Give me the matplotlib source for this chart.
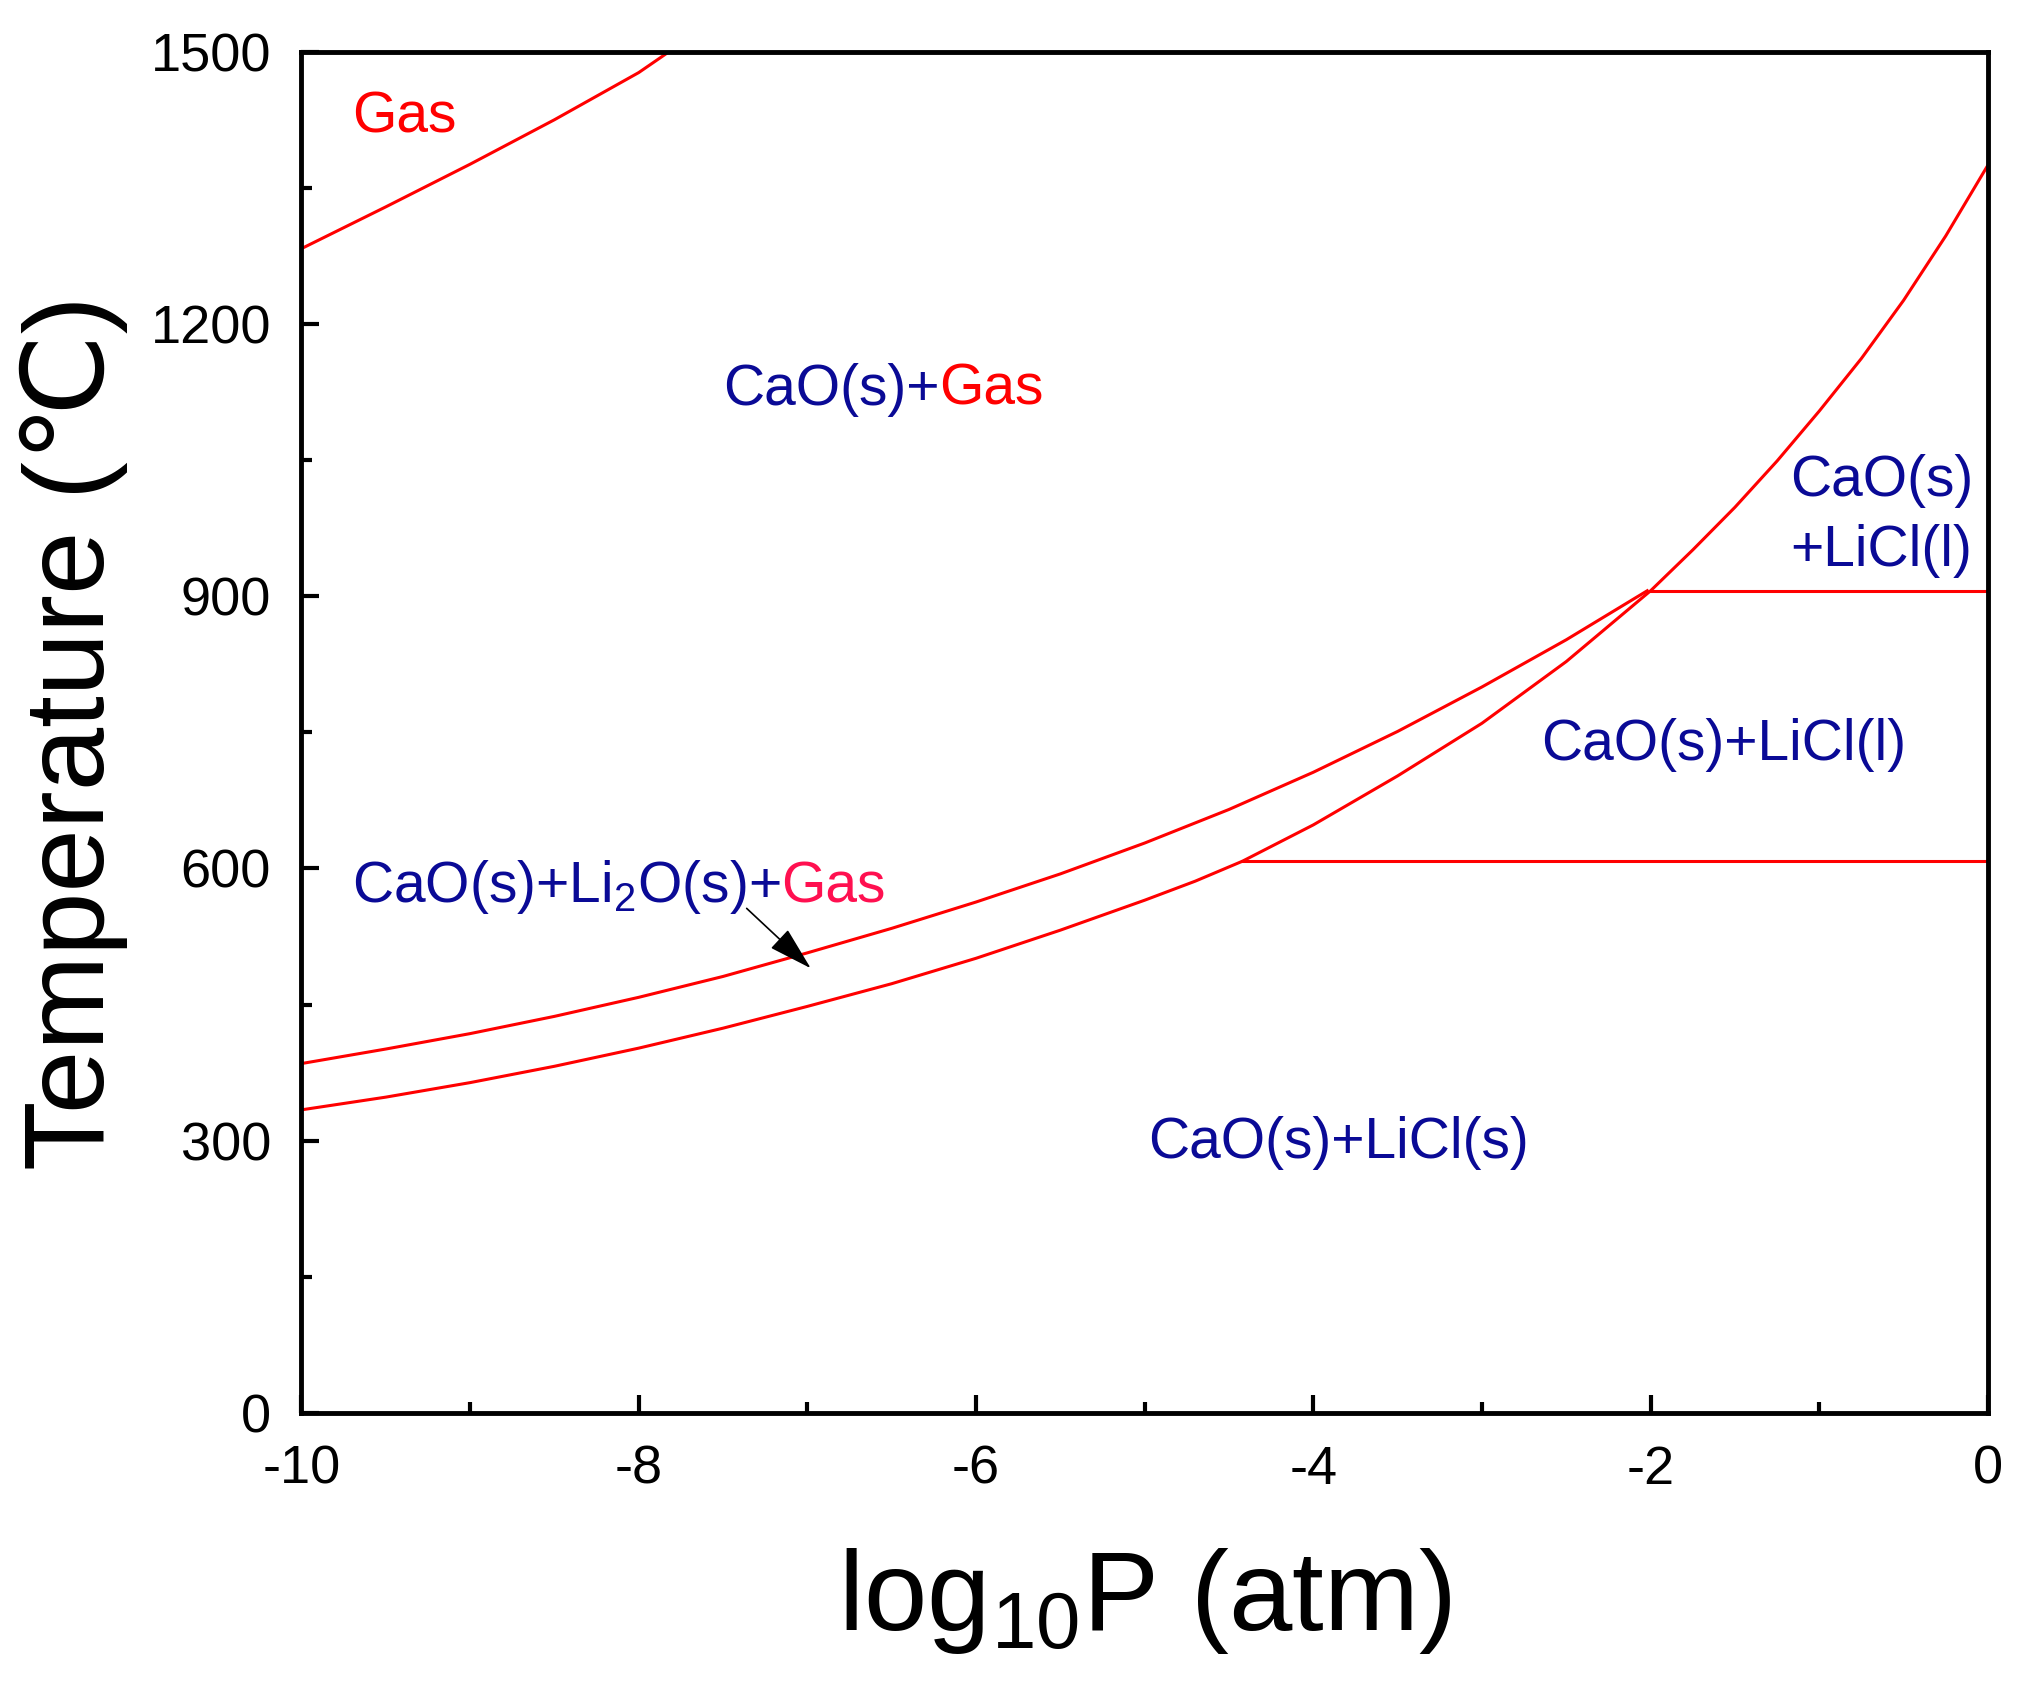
import matplotlib
matplotlib.use("Agg")
import matplotlib.pyplot as plt
from matplotlib.ticker import MultipleLocator
from matplotlib.transforms import IdentityTransform

plt.rcParams["font.family"] = ["Liberation Sans", "DejaVu Sans"]
plt.rcParams["mathtext.fontset"] = "custom"
plt.rcParams["mathtext.rm"] = "Liberation Sans"
plt.rcParams["mathtext.it"] = "Liberation Sans:italic"
plt.rcParams["mathtext.default"] = "regular"
plt.rcParams["axes.unicode_minus"] = False

# --- данные ---
gas_x = [-10, -9.5, -9, -8.5, -8, -7.82]
gas_T = [1283, 1329, 1376, 1425, 1477, 1500]

# верхняя граница области CaO+Li2O+Gas
up_x = [-10, -9.5, -9, -8.5, -8, -7.5, -7, -6.5, -6, -5.5, -5, -4.5,
        -4, -3.5, -3, -2.5, -2.02]
up_T = [385, 401, 418, 437, 458, 481, 507, 534, 563, 594, 628, 665,
        706, 751, 800, 852, 906]

# нижняя кривая (до P = 1 atm)
low_x = [-10, -9.5, -9, -8.5, -8, -7.5, -7, -6.5, -6, -5.5, -5, -4.7, -4.42,
         -4, -3.5, -3, -2.5, -2.0, -1.75, -1.5, -1.25, -1.0, -0.75,
         -0.5, -0.25, 0]
low_T = [334, 348, 364, 382, 402, 424, 448, 473, 501, 532, 565, 586, 608,
         648, 702, 760, 828, 906, 951, 998, 1049, 1104, 1162,
         1226, 1297, 1375]

# горизонтальные линии
hline_T = [906, 608]
hline_x0 = [-2.0, -4.42]

BLUE = "#0a0a96"
RED = "#ff0000"
PINK = "#ff1050"

fig = plt.figure(figsize=(20.19, 16.95), dpi=100)
ax = fig.add_axes([0.1493, 0.1664, 0.8353, 0.8031])

ax.plot(gas_x, gas_T, color=RED, lw=2.2)
ax.plot(up_x, up_T, color=RED, lw=2.2)
ax.plot(low_x, low_T, color=RED, lw=2.2)
for T, x0 in zip(hline_T, hline_x0):
    ax.plot([x0, 0], [T, T], color=RED, lw=2.2)

ax.set_xlim(-10, 0)
ax.set_ylim(0, 1500)
ax.xaxis.set_major_locator(MultipleLocator(2))
ax.xaxis.set_minor_locator(MultipleLocator(1))
ax.yaxis.set_major_locator(MultipleLocator(300))
ax.yaxis.set_minor_locator(MultipleLocator(150))

for s in ax.spines.values():
    s.set_linewidth(3.5)
ax.tick_params(which="both", direction="in", top=False, right=False, width=3)
ax.tick_params(which="major", length=13)
ax.tick_params(which="minor", length=8)
ax.tick_params(axis="y", labelsize=39, pad=22)
ax.tick_params(axis="x", labelsize=39, pad=23)

ax.set_xlabel(r"log$_{10}$P (atm)", fontsize=82)
ax.xaxis.set_label_coords(0.5, -0.098)
ax.set_ylabel("Temperature (℃)", fontsize=82)
ax.yaxis.set_label_coords(-0.103, 0.5)

renderer = fig.canvas.get_renderer()


def colored_text(x, y, parts, size=41):
    # кусочки текста разного цвета подряд по одной базовой линии
    dx, dy = ax.transData.transform((x, y))
    for s, c in parts:
        t = ax.text(dx, dy, s, color=c, fontsize=size, ha="left", va="baseline",
                    transform=IdentityTransform())
        bb = t.get_window_extent(renderer=renderer)
        dx = bb.x1


colored_text(-9.70, 1411, [("Gas", RED)])
colored_text(-7.50, 1111, [("CaO(s)+", BLUE), ("Gas", RED)])
colored_text(-1.17, 1010, [("CaO(s)", BLUE)])
colored_text(-1.17, 933, [("+LiCl(l)", BLUE)])
colored_text(-2.65, 720, [("CaO(s)+LiCl(l)", BLUE)])
colored_text(-9.70, 563, [("CaO(s)+Li$_2$O(s)+", BLUE), ("Gas", PINK)])
colored_text(-4.98, 281, [("CaO(s)+LiCl(s)", BLUE)])

ax.annotate("", xy=(-6.98, 490), xytext=(-7.36, 556),
            arrowprops=dict(arrowstyle="-|>,head_length=1.4,head_width=0.4",
                            color="black", lw=1.2, mutation_scale=20,
                            shrinkA=0, shrinkB=0))

fig.savefig("out.png", dpi=100)
